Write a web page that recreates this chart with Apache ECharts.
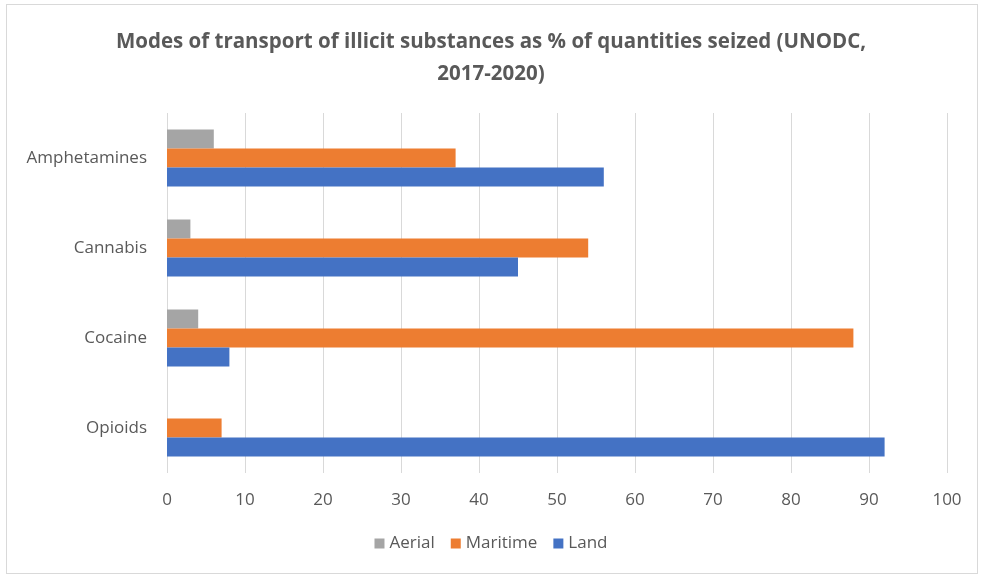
<!DOCTYPE html>
<html>
<head>
<meta charset="utf-8">
<script src="https://cdn.jsdelivr.net/npm/echarts@6/dist/echarts.min.js"></script>
<style>
  html, body { margin: 0; padding: 0; background: #fff; }
  #frame { position: absolute; left: 6px; top: 4px; width: 972px; height: 570px; border: 1px solid #d9d9d9; box-sizing: border-box; }
  #chart { position: absolute; left: 0; top: 0; width: 982px; height: 579px; }
</style>
</head>
<body>
<div id="frame"></div>
<div id="chart"></div>
<script>
const categories = ["Amphetamines", "Cannabis", "Cocaine", "Opioids"];
const aerial = [6, 3, 4, 0];
const maritime = [37, 54, 88, 7];
const land = [56, 45, 8, 92];
const xTicks = [0, 10, 20, 30, 40, 50, 60, 70, 80, 90, 100];

const chart = echarts.init(document.getElementById("chart"));
const font = "Open Sans";
chart.setOption({
  animation: false,
  title: {
    text: "Modes of transport of illicit substances as % of quantities seized (UNODC,\n2017-2020)",
    left: "center",
    top: 21,
    textStyle: { fontFamily: font, fontSize: 20.5, fontWeight: "bold", color: "#595959", lineHeight: 32 }
  },
  legend: {
    bottom: 22,
    left: "center",
    itemWidth: 10,
    itemHeight: 10,
    itemGap: 16,
    icon: "rect",
    textStyle: { fontFamily: font, fontSize: 17, color: "#595959" },
    data: ["Aerial", "Maritime", "Land"]
  },
  grid: { left: 167, right: 35, top: 113, bottom: 106, containLabel: false },
  xAxis: {
    type: "value",
    min: xTicks[0],
    max: xTicks[xTicks.length - 1],
    interval: 10,
    axisLine: { show: false },
    axisTick: { show: false },
    splitLine: { lineStyle: { color: "#d9d9d9" } },
    axisLabel: { fontFamily: font, fontSize: 17, color: "#595959", margin: 19 }
  },
  yAxis: {
    type: "category",
    data: categories,
    inverse: true,
    axisLine: { show: false },
    axisTick: { show: false },
    axisLabel: { fontFamily: font, fontSize: 17, color: "#595959", margin: 20 }
  },
  series: [
    { name: "Aerial", type: "bar", data: aerial, barWidth: 19, barGap: "0%", itemStyle: { color: "#A5A5A5" } },
    { name: "Maritime", type: "bar", data: maritime, barWidth: 19, barGap: "0%", itemStyle: { color: "#ED7D31" } },
    { name: "Land", type: "bar", data: land, barWidth: 19, barGap: "0%", itemStyle: { color: "#4472C4" } }
  ]
});
</script>
</body>
</html>
